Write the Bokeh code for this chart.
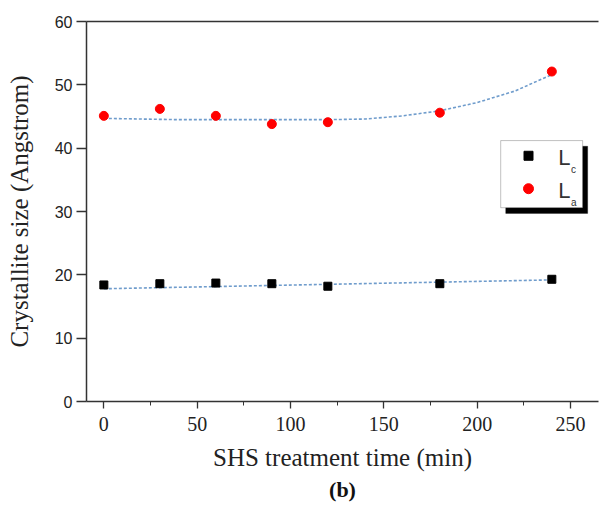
from bokeh.plotting import figure
from bokeh.models import Range1d, LinearAxis, Label, BoxAnnotation, Title, FixedTicker
from bokeh.embed import file_html
from bokeh.resources import INLINE

# ---- data ----
time_min = [0, 30, 60, 90, 120, 180, 240]
lc_vals = [18.4, 18.6, 18.7, 18.6, 18.2, 18.6, 19.3]
la_vals = [45.1, 46.2, 45.1, 43.8, 44.1, 45.6, 52.1]

lc_fit_x = [0, 240]
lc_fit_y = [17.8, 19.2]

la_fit_x = [0, 20, 40, 60, 80, 100, 120, 140, 160, 180, 200, 220, 240]
la_fit_y = [44.7, 44.6, 44.5, 44.5, 44.5, 44.5, 44.5, 44.6, 45.1, 45.9, 47.2, 49.0, 51.6]

x_ticks = [0, 50, 100, 150, 200, 250]
x_minor = [25, 75, 125, 175, 225]
y_ticks = [0, 10, 20, 30, 40, 50, 60]

SERIF = "Liberation Serif"
SANS = "Liberation Sans"

p = figure(width=600, height=511, output_backend="svg", toolbar_location=None,
           x_range=Range1d(-9.3, 265), y_range=Range1d(0, 60),
           min_border_left=86, min_border_right=2, min_border_top=21, min_border_bottom=110)
p.outline_line_color = None
p.grid.visible = False
p.background_fill_color = "white"

# fit lines
p.line(la_fit_x, la_fit_y, line_color="#6f9ccc", line_width=1.6, line_dash="3 2")
p.line(lc_fit_x, lc_fit_y, line_color="#6f9ccc", line_width=1.6, line_dash="3 2")

# points
p.scatter(time_min, lc_vals, marker="square", size=8, fill_color="black", line_color="black")
p.scatter(time_min, la_vals, marker="circle", size=9, fill_color="#ff0000", line_color="#ff0000")

# axes
for ax in (p.xaxis[0], p.yaxis[0]):
    ax.axis_line_color = "#333333"
    ax.axis_line_width = 1.5
    ax.major_tick_line_color = "#333333"
    ax.major_tick_line_width = 1.3
    ax.major_tick_in = 0
    ax.major_label_text_color = "#222222"
    ax.axis_label_text_font = SERIF
    ax.axis_label_text_font_style = "normal"
    ax.axis_label_text_font_size = "25px"
    ax.axis_label_text_color = "#222222"

xa = p.xaxis[0]
xa.ticker = FixedTicker(ticks=x_ticks, minor_ticks=x_minor)
xa.major_tick_out = 7
xa.minor_tick_line_color = "#333333"
xa.minor_tick_in = 0
xa.minor_tick_out = 4
xa.major_label_text_font = SERIF
xa.major_label_text_font_size = "20px"
xa.axis_label = "SHS treatment time (min)"
xa.major_label_standoff = 8
xa.axis_label_standoff = 10

ya = p.yaxis[0]
ya.ticker = FixedTicker(ticks=y_ticks, minor_ticks=[])
ya.major_tick_out = 10
ya.minor_tick_line_color = None
ya.major_label_text_font = SANS
ya.major_label_text_font_size = "16px"
ya.axis_label = "Crystallite size (Angstrom)"
ya.major_label_standoff = 4
ya.axis_label_standoff = 19

top = LinearAxis(ticker=FixedTicker(ticks=[]), axis_line_color="#333333", axis_line_width=1.5,
                 major_tick_line_color=None, minor_tick_line_color=None,
                 major_label_text_font_size="0px")
p.add_layout(top, "above")

p.add_layout(Title(text="(b)", align="center", text_font=SERIF, text_font_size="22px",
                   text_font_style="bold", text_color="#111111", standoff=3), "below")

# ---- manual legend (layout positions) ----
p.add_layout(BoxAnnotation(left=215.3, right=259.2, top=40.3, bottom=29.7, level="underlay",
                           fill_color="black", fill_alpha=1, line_color="black"))
p.add_layout(BoxAnnotation(left=212.6, right=256.5, top=41.2, bottom=30.6, level="underlay",
                           fill_color="white", fill_alpha=1, line_color="#333333", line_width=1))
p.scatter([227.5], [38.8], marker="square", size=9, fill_color="black", line_color="black")
p.scatter([227.5], [33.6], marker="circle", size=10, fill_color="#ff0000", line_color="#ff0000")
for yy, sub in ((38.5, "c"), (33.3, "a")):
    p.add_layout(Label(x=243.5, y=yy, text="L", text_font=SANS, text_font_size="22px",
                       text_baseline="middle", text_color="#333333"))
    p.add_layout(Label(x=250.3, y=yy - 1.9, text=sub, text_font=SANS, text_font_size="10px",
                       text_baseline="middle", text_color="#333333"))

open("out.html", "w").write(file_html(p, INLINE))
